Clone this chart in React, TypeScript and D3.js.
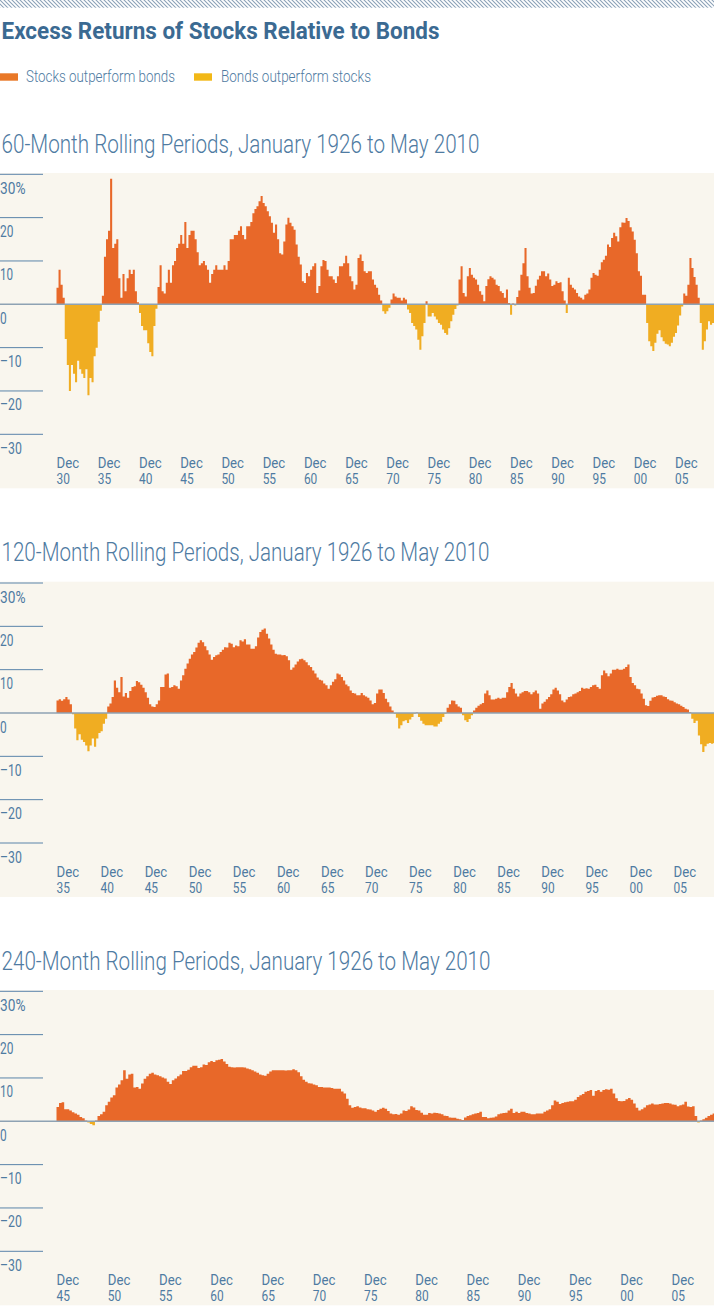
import React from 'react';
import * as d3 from 'd3';

const W = 714;
const H = 1308;

// ---------- data (quarterly values, % excess return of stocks over bonds) ----------
const TITLE = 'Excess Returns of Stocks Relative to Bonds';
const LEGEND_LABELS = ['Stocks outperform bonds', 'Bonds outperform stocks'];
const Y_TICKS = [30, 20, 10, 0, -10, -20, -30];

const SUBTITLE_60 = '60-Month Rolling Periods, January 1926 to May 2010';
const START_60 = 1930; // first value: Dec 1930
const TICKS_60 = [1930, 1935, 1940, 1945, 1950, 1955, 1960, 1965, 1970, 1975, 1980, 1985, 1990, 1995, 2000, 2005];
const VALUES_60 = [
  3.8, 8.0, 4.5, 1.5, -8, -14, -20, -14, -16, -18,
  -13, -15, -16, -17, -15, -21, -17, -18, -12, -10,
  -4, -1.5, 2, 11, 15, 17, 29, 13, 14, 15,
  6, 1.5, 7, 3, 6, 8, 7, 8, 3, 0.5,
  -2, -5, -6, -6, -9, -11, -12, -5, -1, 4,
  9, 3, 2.5, 5, 8, 5, 9, 10, 13, 14,
  16, 14, 19, 13, 16, 17, 17, 15, 12, 9,
  9.5, 10, 9, 8, 5, 7, 8, 9, 8, 8,
  8, 9, 8, 10, 15, 15, 16, 16, 17, 18,
  16, 15, 18, 18, 19, 21, 22, 22.6, 23.8, 25,
  23.4, 22.6, 21.5, 20.3, 18.8, 16.5, 18.4, 15, 11.8, 11.5,
  14.5, 18.4, 20, 18.8, 18, 17.2, 13.8, 11, 9.2, 5.3,
  4.9, 7.2, 6.5, 8, 8.8, 9.5, 2.6, 4.2, 8.8, 10.2,
  10, 8, 6.5, 6.5, 5.7, 4.9, 6.5, 8.8, 8.8, 9.5,
  11.2, 9.5, 6.5, 5.3, 3.4, 4.5, 10.7, 11.5, 10, 7.6,
  7.2, 7.6, 7.6, 5.7, 4.5, 3.8, 2.2, 0.9, -1.6, -2.2,
  -1.6, -0.8, 1.1, 2.5, 1.8, 1.5, 1.5, 0.9, 1.5, 1.1,
  -1.2, -2, -4.3, -5, -5.8, -8.2, -10.5, -7.4, -4.3, 0.7,
  -2.8, -2.8, -2, -2.8, -3.5, -4.3, -4.7, -5.8, -6.6, -7,
  -5.5, -3.9, -2.4, -1.1, -0.3, 5.7, 8.8, 2.6, 1.8, 6.5,
  8.4, 6.8, 6.1, 5.7, 4.5, 3, 2.2, 0.7, 4.2, 5.8,
  6.5, 6.1, 5.7, 4.5, 4.2, 3, 2.6, 1.5, 3.4, 0.3,
  -2.4, 0.2, -0.3, 1.7, 3.2, 6.8, 9.5, 13, 6.5, 3.8,
  2.5, 2.6, 4.3, 5.7, 6.6, 7.6, 7.6, 6.5, 7.1, 5.7,
  4.2, 4.5, 5.3, 4.9, 5.1, 3, 0.9, -2, 6.1, 4.5,
  3.8, 3.4, 2.6, 1.8, 1.5, 1.1, 2.2, 2.5, 3.4, 6.1,
  7.2, 6.8, 6.6, 8, 9.7, 10.3, 11.2, 13.8, 13.2, 15.3,
  16.5, 15.7, 14.5, 17.8, 18.9, 18.8, 19.9, 19.2, 17.8, 16.8,
  14.9, 11.8, 7.6, 6.6, 2.2, 2.2, -4.3, -8.5, -9.7, -10.8,
  -8.9, -6.8, -6, -7.6, -8.5, -9.1, -9.3, -9.7, -8.9, -7.5,
  -6.6, -4.9, -2.6, -0.5, 2.5, 2, 4.5, 10.7, 8.4, 6.3,
  4.5, 1.5, -4.3, -10.5, -8.5, -5.8, -3.9, -4.7, -4.3,
];

const SUBTITLE_120 = '120-Month Rolling Periods, January 1926 to May 2010';
const START_120 = 1935; // first value: Dec 1935
const TICKS_120 = [1935, 1940, 1945, 1950, 1955, 1960, 1965, 1970, 1975, 1980, 1985, 1990, 1995, 2000, 2005];
const VALUES_120 = [
  2.9, 3.2, 2.8, 3.2, 3.7, 3.1, 2, -0.3, -3.6, -6.3,
  -4.9, -6.2, -6.7, -7.5, -8.8, -7.5, -5.9, -7.8, -5.9, -4.6,
  -4.2, -2.5, -1.3, 1.5, 2.2, 3.7, 7.5, 5.8, 4.8, 8.3,
  3.8, 4.6, 3.5, 5.1, 6, 6.2, 7.4, 7.1, 6.5, 5.8,
  4.8, 3.5, 2, 1.5, 1.4, 2, 2.9, 6, 6, 8.9,
  9.1, 5.8, 6, 6.4, 6.2, 5.6, 7.5, 8.7, 10.2, 11.4,
  12.5, 13.5, 14.1, 15.1, 16.2, 16.8, 16.3, 15.4, 14.5, 13.5,
  12.3, 12.9, 13.3, 13.5, 14.1, 14.6, 15.2, 15.1, 16.2, 16,
  15.2, 15.6, 15.4, 16.8, 16.5, 17, 15.8, 15.8, 14.8, 14.8,
  15.4, 17.4, 18.7, 19.2, 19.5, 18.3, 17.2, 15.8, 14.6, 13.7,
  13.5, 13.5, 13.3, 13.4, 13.1, 12.2, 10, 10.5, 11.2, 11.9,
  12.4, 12.5, 12.2, 11.7, 11, 10.6, 9.8, 9.1, 8.2, 7.7,
  7.5, 6.8, 6.4, 5.6, 6.4, 7.2, 7.8, 9.1, 8.9, 8.3,
  7.5, 6.6, 6.2, 5.2, 4.6, 4.5, 4.1, 4.1, 4.6, 4.1,
  3.8, 3.5, 2.9, 2, 2.3, 4.5, 5.4, 5.4, 4.6, 3.3,
  2.5, 1.5, 0.6, -0.2, -1.1, -3.6, -2.8, -1.9, -1.7, -2.3,
  -1.5, -0.9, -0.2, 0.1, -0.9, -1.8, -2.5, -2.8, -2.8, -2.8,
  -2.8, -3.1, -3.1, -2.5, -2, -0.9, -0.2, 1.2, 2, 2.9,
  2.8, 2, 1.5, 1.2, -0.5, -1.7, -2.1, -1.4, -0.5, 0.6,
  1.2, 1.7, 2, 2.3, 4.5, 5.2, 4.1, 3.1, 3.1, 3.3,
  3.5, 3.3, 3.5, 3.5, 4.8, 6, 6.9, 5.6, 4.5, 3.8,
  4.5, 4.8, 5.1, 5.1, 4.8, 4.3, 4.8, 5.2, 4.5, 1,
  2.2, 2.6, 3.2, 3.7, 4.3, 5.4, 5.8, 5.2, 4.3, 2.9,
  2.5, 3.1, 3.7, 3.8, 4.3, 4.5, 4.8, 5.1, 5.8, 5.6,
  5.7, 5.6, 6, 6.4, 6.5, 6, 5.6, 8.7, 9.8, 9.2,
  8.5, 9.1, 10, 10, 10.2, 10, 10, 10.2, 10.6, 11.2,
  8.3, 6.9, 6.4, 5.6, 5.5, 4.5, 3.3, 1.8, 1.6, 2.8,
  3.6, 3.7, 4, 4.1, 4.1, 3.8, 3.7, 3.2, 2.9, 2.8,
  2.5, 2.2, 2, 1.7, 1.4, 1, 0.8, 0.2, -1.3, -2.3,
  -1.8, -5.2, -7.2, -9, -7.7, -7.1, -6.9, -7.1, -6.9,
];

const SUBTITLE_240 = '240-Month Rolling Periods, January 1926 to May 2010';
const START_240 = 1945; // first value: Dec 1945
const TICKS_240 = [1945, 1950, 1955, 1960, 1965, 1970, 1975, 1980, 1985, 1990, 1995, 2000, 2005];
const VALUES_240 = [
  3.3, 4.2, 4.4, 2.8, 2.8, 2.5, 2.1, 1.8, 1.5, 1,
  0.7, 0.2, -0.3, -0.6, -0.9, 0.2, 1.2, 1.6, 2.2, 3.7,
  4.5, 5.5, 6, 7.8, 8.5, 9.5, 11.8, 9.8, 10.8, 11,
  7.8, 7.9, 7.5, 8.7, 9.8, 10.4, 11, 11.2, 10.8, 10.6,
  10.4, 10.1, 9.9, 9.1, 8.6, 9.5, 9.9, 10.4, 10.8, 11.6,
  11.6, 11.9, 12.5, 12.8, 12.8, 12.3, 12.5, 13.1, 13, 13.6,
  13.9, 13.7, 14.1, 14.2, 14.4, 13.8, 13.2, 12.6, 12.5, 12.4,
  12.5, 12.5, 12.5, 12.4, 12.2, 12, 11.8, 11.5, 11.2, 10.8,
  10.6, 10.5, 11, 11.5, 11.8, 11.8, 11.8, 11.8, 11.8, 11.7,
  11.8, 11.8, 12, 11.8, 11.3, 10.4, 9.6, 9.1, 8.8, 8.7,
  8.5, 8.3, 7.9, 7.9, 7.8, 7.8, 7.8, 7.7, 7.5, 7.5,
  7.5, 6.9, 6.4, 5.2, 3.7, 3.1, 3.3, 3.5, 3.2, 3,
  3, 2.8, 2.7, 2.5, 2.2, 2.6, 2.9, 3.1, 2.9, 2.4,
  1.8, 1.6, 1.7, 1.5, 1.8, 2.5, 2.4, 2.7, 3.5, 3.2,
  2.6, 2.5, 2, 1.5, 1.5, 1.9, 1.8, 2, 1.9, 1.8,
  1.6, 1.3, 1.2, 0.9, 0.8, 0.8, 0.6, 0.5, 0.3, 0.9,
  1.2, 1.4, 1.6, 1.8, 1.9, 2.2, 1, 1, 0.7, 0.8,
  0.9, 1.1, 1.6, 1.8, 1.9, 2, 2.5, 2.9, 1.9, 2.2,
  1.9, 2.2, 2.2, 1.9, 1.8, 1.6, 1.6, 1.8, 1.8, 1.8,
  2.2, 2.5, 2.8, 3.7, 4.8, 4.5, 4, 4.2, 4.4, 4.5,
  4.6, 4.6, 5, 5.6, 6, 6.3, 6.8, 7, 7.2, 5.9,
  7, 7.2, 6.8, 7.2, 7.4, 7.3, 7.5, 6.4, 5.3, 4.7,
  4.6, 4.7, 5.1, 5.4, 5, 4.1, 3.1, 2.5, 2.8, 3.2,
  3.7, 3.9, 4.1, 3.9, 3.9, 4, 4.1, 4.2, 4.2, 4.1,
  3.9, 3.8, 3.5, 3.7, 3.9, 4.5, 3.4, 3.3, 3.5, 1.2,
  -0.3, 0.2, 0.5, 0.8, 1.2, 1.5, 1.8, 1.9, 2,
];

// ---------- styles ----------
const FONT = "'Liberation Sans Narrow', Roboto, 'Noto Sans', sans-serif";
const C_TITLE = '#3b6a92';
const C_TEXT = '#4f7ba2';
const C_TICK = '#5a84aa';
const C_ZERO = '#8ea2b3';
const C_BG = '#f9f6ee';
const C_POS = '#e86829';
const C_NEG = '#f0ad22';
const C_POS_LEG = '#e97827';
const C_NEG_LEG = '#f2b817';

// approximate widths of a condensed face at 16px
const CHAR_W: Record<string, number> = { D: 8.6, e: 7, c: 7, '%': 12, '–': 8.5, '1': 6.4 };
const labelWidth = (s: string) => s.split('').reduce((a, ch) => a + (CHAR_W[ch] ?? 6.7), 0);

const CHARTS = [
  { subtitle: SUBTITLE_60, subW: 478, start: START_60, ticks: TICKS_60, values: VALUES_60, top: 174.3, tick05: 675 },
  { subtitle: SUBTITLE_120, subW: 488, start: START_120, ticks: TICKS_120, values: VALUES_120, top: 583, tick05: 673.6 },
  { subtitle: SUBTITLE_240, subW: 489, start: START_240, ticks: TICKS_240, values: VALUES_240, top: 991.3, tick05: 671.6 },
];

type Cfg = typeof CHARTS[number];

function Panel({ cfg, idx }: { cfg: Cfg; idx: number }) {
  const startDate = new Date(cfg.start, 11, 1);
  const x = d3.scaleTime().domain([startDate, new Date(2005, 11, 1)]).range([56.5, cfg.tick05]);
  const y = d3.scaleLinear().domain([-30, 30]).range([cfg.top + 260, cfg.top]);
  const pts = cfg.values.map((v, i) => ({ date: d3.timeMonth.offset(startDate, 3 * i), v }));
  pts.push({ date: d3.timeMonth.offset(startDate, 3 * cfg.values.length), v: cfg.values[cfg.values.length - 1] });

  const pos = d3.area<{ date: Date; v: number }>()
    .x((d) => x(d.date))
    .y0(y(0))
    .y1((d) => y(Math.max(0, d.v)))
    .curve(d3.curveStepAfter);
  const neg = d3.area<{ date: Date; v: number }>()
    .x((d) => x(d.date))
    .y0(y(0))
    .y1((d) => y(Math.min(0, d.v)))
    .curve(d3.curveStepAfter);

  const bgTop = cfg.top - 1.3;
  const bgBot = cfg.top + 314;
  const clipId = `clip${idx}`;
  const fmtY = (v: number) => (v === 30 ? '30%' : v < 0 ? `–${Math.abs(v)}` : String(v));

  return (
    <g>
      <text x={1.5} y={bgTop - 20.5} fontFamily={FONT} fontWeight={300} fontSize={26} fill={C_TEXT}
        textLength={cfg.subW} lengthAdjust="spacingAndGlyphs">{cfg.subtitle}</text>
      <rect x={0} y={bgTop} width={W} height={bgBot - bgTop} fill={C_BG} />
      <clipPath id={clipId}>
        <rect x={0} y={bgTop} width={W} height={bgBot - bgTop} />
      </clipPath>
      <g clipPath={`url(#${clipId})`}>
        <path d={pos(pts) || ''} fill={C_POS} />
        <path d={neg(pts) || ''} fill={C_NEG} />
      </g>
      {Y_TICKS.map((t) => (
        <g key={t}>
          {t !== 0 && <line x1={0} x2={43} y1={y(t)} y2={y(t)} stroke={C_TICK} strokeWidth={1} />}
          <text x={0} y={y(t) + 19.5} fontFamily={FONT} fontWeight={400} fontSize={16} fill={C_TEXT}
            textLength={labelWidth(fmtY(t))} lengthAdjust="spacingAndGlyphs">{fmtY(t)}</text>
        </g>
      ))}
      <line x1={0} x2={W} y1={y(0)} y2={y(0)} stroke={C_ZERO} strokeWidth={1.6} />
      {cfg.ticks.map((yr) => {
        const tx = x(new Date(yr, 11, 1));
        const yy = String(yr % 100).padStart(2, '0');
        return (
          <g key={yr}>
            <text x={tx} y={y(-30) + 34} fontFamily={FONT} fontWeight={400} fontSize={15.5} fill={C_TEXT}
              textLength={labelWidth('Dec')} lengthAdjust="spacingAndGlyphs">Dec</text>
            <text x={tx} y={y(-30) + 50} fontFamily={FONT} fontWeight={400} fontSize={15.5} fill={C_TEXT}
              textLength={labelWidth(yy)} lengthAdjust="spacingAndGlyphs">{yy}</text>
          </g>
        );
      })}
    </g>
  );
}

export default function App() {
  return (
    <svg width={W} height={H} viewBox={`0 0 ${W} ${H}`}
      style={{ position: 'absolute', left: 0, top: 0, display: 'block', background: '#fff' }}>
      <defs>
        <pattern id="hatch" patternUnits="userSpaceOnUse" width={4} height={4}>
          <path d="M-1,-1 L5,5 M-1,3 L1,5 M3,-1 L5,1" stroke="#8ba1b7" strokeWidth={1.1} />
        </pattern>
      </defs>
      <rect x={0} y={0} width={W} height={7.7} fill="url(#hatch)" />
      <text x={1.5} y={38.7} fontFamily={FONT} fontWeight={700} fontSize={23.5} fill={C_TITLE}
        textLength={438} lengthAdjust="spacingAndGlyphs">{TITLE}</text>
      <rect x={0} y={73.3} width={18} height={7.4} fill={C_POS_LEG} />
      <text x={26} y={82} fontFamily={FONT} fontWeight={300} fontSize={17} fill={C_TEXT}
        textLength={149} lengthAdjust="spacingAndGlyphs">{LEGEND_LABELS[0]}</text>
      <rect x={194} y={73.3} width={18} height={7.4} fill={C_NEG_LEG} />
      <text x={221} y={82} fontFamily={FONT} fontWeight={300} fontSize={17} fill={C_TEXT}
        textLength={150} lengthAdjust="spacingAndGlyphs">{LEGEND_LABELS[1]}</text>
      {CHARTS.map((c, i) => <Panel key={i} cfg={c} idx={i} />)}
    </svg>
  );
}
